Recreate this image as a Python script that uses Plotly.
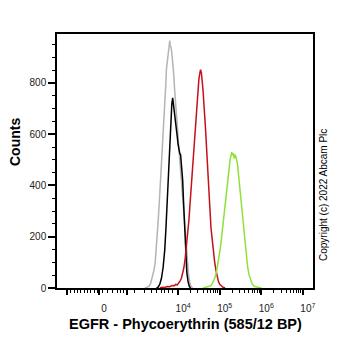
import numpy as np
import plotly.graph_objects as go

# Histogram data: x as log10(intensity), y = counts
gray_log = [3.20, 3.26, 3.30, 3.34, 3.38, 3.42, 3.45, 3.48, 3.52, 3.55, 3.58, 3.61, 3.64, 3.67, 3.70, 3.72,
            3.74, 3.76, 3.78, 3.80, 3.81, 3.83, 3.85, 3.87, 3.89, 3.91, 3.93, 3.95, 3.97, 3.99, 4.01, 4.04,
            4.07, 4.10, 4.13, 4.16, 4.19, 4.22, 4.25, 4.28, 4.31, 4.35]
gray_cnt = [0, 3, 6, 18, 40, 70, 100, 160, 260, 340, 420, 495, 600, 690, 780, 855,
            890, 920, 930, 965, 945, 940, 915, 885, 845, 790, 735, 700, 660, 610, 565, 500,
            440, 360, 285, 215, 150, 100, 55, 22, 6, 0]

black_log = [3.48, 3.52, 3.56, 3.60, 3.64, 3.68, 3.71, 3.74, 3.77, 3.79, 3.81, 3.83, 3.85, 3.87, 3.88,
             3.90, 3.92, 3.94, 3.96, 3.98, 4.00, 4.02, 4.04, 4.06, 4.07, 4.09, 4.11, 4.13, 4.15, 4.17,
             4.19, 4.21, 4.24, 4.27, 4.30]
black_cnt = [0, 3, 15, 38, 80, 150, 240, 350, 470, 560, 620, 670, 720, 742, 730,
             705, 680, 650, 620, 590, 560, 540, 525, 520, 505, 470, 420, 340, 250, 180,
             110, 60, 25, 6, 0]

red_log = [3.56, 3.62, 3.68, 3.74, 3.80, 3.86, 3.90, 3.94, 3.98, 4.02, 4.05, 4.08, 4.11, 4.14, 4.17,
           4.20, 4.23, 4.26, 4.29, 4.32, 4.35, 4.38, 4.41, 4.44, 4.47, 4.50, 4.52, 4.54, 4.56, 4.58,
           4.60, 4.62, 4.64, 4.66, 4.68, 4.70, 4.72, 4.74, 4.76, 4.79, 4.82, 4.85, 4.88, 4.91, 4.94,
           4.97, 5.00, 5.04, 5.08, 5.13]
red_cnt = [0, 3, 2, 6, 5, 10, 8, 14, 12, 20, 28, 38, 55, 80, 115,
           160, 205, 265, 335, 405, 480, 550, 625, 700, 765, 815, 835, 852, 840, 815,
           770, 720, 680, 620, 560, 490, 420, 355, 300, 235, 190, 140, 100, 70, 45,
           25, 14, 8, 3, 0]

green_log = [4.60, 4.66, 4.72, 4.78, 4.83, 4.88, 4.92, 4.95, 4.98, 5.01, 5.04, 5.07, 5.10, 5.13, 5.16,
             5.19, 5.22, 5.25, 5.27, 5.29, 5.31, 5.33, 5.35, 5.37, 5.39, 5.41, 5.43, 5.46, 5.49, 5.52,
             5.55, 5.58, 5.61, 5.64, 5.67, 5.70, 5.74, 5.78, 5.84, 5.92, 6.00]
green_cnt = [0, 2, 4, 8, 20, 38, 60, 85, 115, 150, 190, 235, 285, 330, 385,
             430, 470, 500, 515, 530, 518, 525, 505, 520, 512, 500, 480, 430, 380, 330,
             280, 220, 170, 125, 85, 55, 30, 15, 6, 2, 0]

series = [
    (gray_log, gray_cnt, "#b4b4b4"),
    (black_log, black_cnt, "#000000"),
    (red_log, red_cnt, "#c4121c"),
    (green_log, green_cnt, "#8fe03a"),
]

# axis ticks (log10 positions)
major_log = [1.33, 2.10, 2.77, 4, 5, 6, 7]
major_text = ["", "0", "", "10<sup>4</sup>", "10<sup>5</sup>", "10<sup>6</sup>", "10<sup>7</sup>"]
low_minor_log = [1.42, 1.50, 1.58, 1.66, 1.74, 1.82, 1.90, 1.98, 2.06,
                 2.18, 2.30, 2.42, 2.54, 2.61, 2.68,
                 2.96, 3.20, 3.36, 3.48, 3.59, 3.68, 3.76, 3.86]

fig = go.Figure()
for xs, ys, col in series:
    fig.add_trace(go.Scatter(x=10 ** np.array(xs), y=ys, mode="lines",
                             line=dict(color=col, width=1.5), showlegend=False,
                             hoverinfo="skip"))

minor_vals = [10 ** v for v in low_minor_log]
for k in (4, 5, 6):
    for m in range(2, 10):
        minor_vals.append(m * 10 ** k)

fig.update_layout(
    width=362, height=351,
    margin=dict(l=57, r=49, t=34, b=63),
    paper_bgcolor="white", plot_bgcolor="white",
    font=dict(family="Arial, Liberation Sans, sans-serif", color="#111"),
    xaxis=dict(
        type="log", range=[1.089, 7.243],
        tickmode="array", tickvals=[10 ** v for v in major_log], ticktext=major_text,
        ticks="outside", ticklen=5, tickwidth=2, tickcolor="black",
        tickfont=dict(size=10, color="#222"), ticklabelshift=5, ticklabelstandoff=5,
        showgrid=False, zeroline=False,
        showline=True, linecolor="black", linewidth=1.5, mirror=True,
        minor=dict(tickmode="array", tickvals=minor_vals, ticks="outside",
                   ticklen=3, tickwidth=1, tickcolor="black", showgrid=False),
    ),
    yaxis=dict(
        range=[0, 991], tickmode="array", tickvals=[0, 200, 400, 600, 800],
        ticks="outside", ticklen=7, tickwidth=2, tickcolor="black",
        tickfont=dict(size=10, color="#222"),
        showgrid=False, zeroline=False,
        showline=True, linecolor="black", linewidth=1.5, mirror=True,
        minor=dict(dtick=50, ticks="outside", ticklen=3, tickwidth=1,
                   tickcolor="black", showgrid=False),
    ),
    annotations=[
        dict(text="<b>Counts</b>", x=0, y=0, xref="paper", yref="paper",
             showarrow=False, textangle=-90, font=dict(size=14, color="black")),
        dict(text="<b>EGFR - Phycoerythrin (585/12 BP)</b>", x=0.5, y=0, xref="paper", yref="paper",
             showarrow=False, font=dict(size=14.5, color="black")),
        dict(text="Copyright (c) 2022 Abcam Plc", x=1, y=0.5, xref="paper", yref="paper",
             showarrow=False, textangle=-90, font=dict(size=10, color="black")),
    ],
)

# place annotations in pixel terms relative to the plot area
pw, ph = 362 - 57 - 49, 351 - 34 - 63
def px_to_paper(px, py):
    return (px - 57) / pw, (351 - 63 - py) / ph

ax, ay = px_to_paper(15, 142)
fig.layout.annotations[0].update(x=ax, y=ay, xanchor="center", yanchor="middle")
ax, ay = px_to_paper(185, 324)
fig.layout.annotations[1].update(x=ax, y=ay, xanchor="center", yanchor="middle")
ax, ay = px_to_paper(323, 195)
fig.layout.annotations[2].update(x=ax, y=ay, xanchor="center", yanchor="middle")

fig.write_html("out.html")
